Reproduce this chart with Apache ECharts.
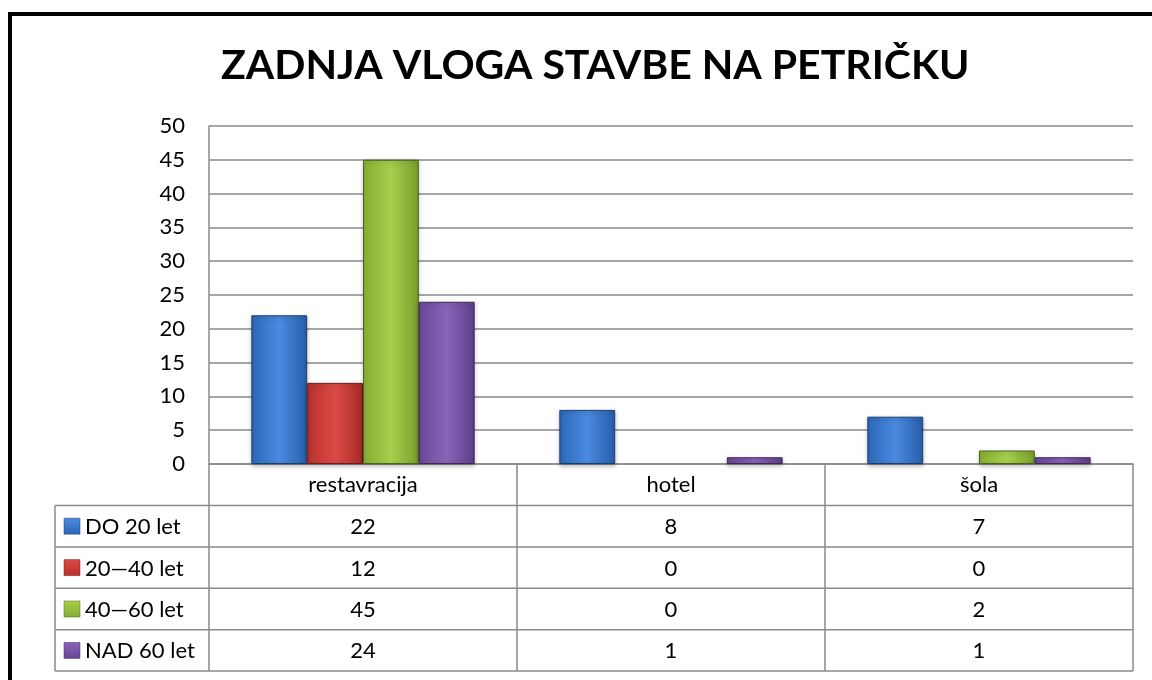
<!DOCTYPE html>
<html><head><meta charset="utf-8">
<script src="https://cdn.jsdelivr.net/npm/echarts@6/dist/echarts.min.js"></script>
<style>html,body{margin:0;padding:0;background:#fff}#c{width:1152px;height:680px}</style>
</head><body><div id="c"></div>
<script>
const titleText = 'ZADNJA VLOGA STAVBE NA PETRIČKU';
const categories = ['restavracija', 'hotel', 'šola'];
const seriesNames = ['DO 20 let', '20\u201440 let', '40\u201460 let', 'NAD 60 let'];
const do20 = [22, 8, 7];
const s20_40 = [12, 0, 0];
const s40_60 = [45, 0, 2];
const nad60 = [24, 1, 1];
const seriesValues = [do20, s20_40, s40_60, nad60];
const yTicks = [0, 5, 10, 15, 20, 25, 30, 35, 40, 45, 50];

const palette = [
  {l:'#2c68b8', m:'#4a8ae0', r:'#275ea8', b:'#1c3e6e'},
  {l:'#b8302c', m:'#dc4a45', r:'#a82a27', b:'#6e1c1a'},
  {l:'#86ad33', m:'#a6d04d', r:'#7a9e2c', b:'#4c6419'},
  {l:'#6a4796', m:'#8a63ba', r:'#5f3f88', b:'#3d2858'}
];
function grad(p){
  return new echarts.graphic.LinearGradient(0,0,1,0,[
    {offset:0,color:p.l},{offset:0.5,color:p.m},{offset:1,color:p.r}]);
}

const FONT = 'Lato, "Open Sans", sans-serif';
const FS = 22;
const gridL = 209, gridR = 1133, gridT = 126, gridB = 464;
const rowTop = 505.5, rowH = 41.4, tableL = 55;
const catW = (gridR - gridL) / categories.length;

const chart = echarts.init(document.getElementById('c'), null, {renderer:'canvas'});

const graphics = [];
graphics.push({type:'rect', shape:{x:10, y:14, width:1200, height:700},
  style:{fill:'none', stroke:'#000', lineWidth:4}, z:10});
const lineStyle = {stroke:'#8a8a8a', lineWidth:1.5};
for (let j = 0; j <= categories.length; j++) {
  const x = gridL + j * catW;
  graphics.push({type:'line', shape:{x1:x, y1:gridB, x2:x, y2:rowTop + rowH*seriesNames.length}, style:lineStyle});
}
graphics.push({type:'line', shape:{x1:tableL, y1:rowTop, x2:tableL, y2:rowTop + rowH*seriesNames.length}, style:lineStyle});
for (let i = 0; i <= seriesNames.length; i++) {
  const y = rowTop + i * rowH;
  graphics.push({type:'line', shape:{x1:tableL, y1:y, x2:gridR, y2:y}, style:lineStyle});
}
seriesNames.forEach((name, i) => {
  const cy = rowTop + i * rowH + rowH/2;
  const p = palette[i];
  graphics.push({type:'rect', shape:{x:64, y:cy-8, width:16, height:16},
    style:{fill:new echarts.graphic.LinearGradient(0,0,0,1,[{offset:0,color:p.m},{offset:1,color:p.l}]), stroke:p.b, lineWidth:0.5}});
  graphics.push({type:'text', x:85, y:cy + 1, style:{text:name, fill:'#000', font:FS + 'px ' + FONT, textVerticalAlign:'middle', textAlign:'left'}});
  seriesValues[i].forEach((v, j) => {
    graphics.push({type:'text', x:gridL + catW*(j+0.5), y:cy + 1, style:{text:String(v), fill:'#000', font:FS + 'px ' + FONT, textAlign:'center', textVerticalAlign:'middle'}});
  });
});

chart.setOption({
  animation:false,
  backgroundColor:'#fff',
  title:{text:titleText, left:216, top:40, textStyle:{fontFamily:FONT, fontWeight:'bold', fontSize:41, color:'#000'}},
  grid:{left:gridL, right:1152-gridR, top:gridT, bottom:680-gridB, containLabel:false},
  xAxis:{type:'category', data:categories,
    axisLine:{show:true, lineStyle:{color:'#8a8a8a', width:1.5}},
    axisTick:{show:false},
    axisLabel:{fontFamily:FONT, fontSize:FS, color:'#000', margin:10}},
  yAxis:{type:'value', min:yTicks[0], max:yTicks[yTicks.length-1], interval:yTicks[1]-yTicks[0],
    axisLine:{show:true, lineStyle:{color:'#8a8a8a', width:1.5}},
    axisTick:{show:false},
    splitLine:{lineStyle:{color:'#8a8a8a', width:1.5}},
    axisLabel:{fontFamily:FONT, fontSize:FS, color:'#000', margin:24}},
  series: seriesNames.map((n, i) => ({
    name:n, type:'bar', data:seriesValues[i].map(v => v === 0 ? '-' : v), barGap:'0%', barCategoryGap:'27.5%',
    itemStyle:{color:grad(palette[i]), borderColor:palette[i].b, borderWidth:1,
      shadowColor:'rgba(0,0,0,0.25)', shadowBlur:4, shadowOffsetY:2}
  })),
  graphic: graphics
});
</script></body></html>
